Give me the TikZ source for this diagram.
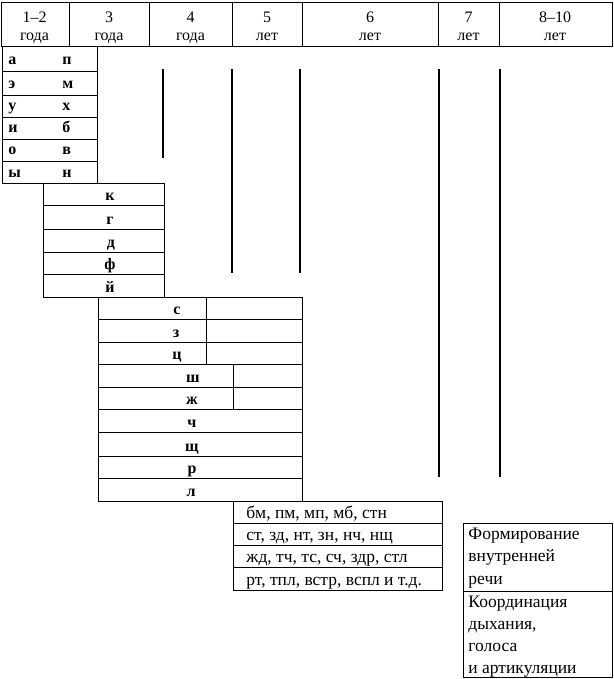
\documentclass[tikz,border=0pt]{standalone}
\usepackage{fontspec}
\setmainfont{Liberation Serif}
\begin{document}
\begin{tikzpicture}[x=1pt,y=-1pt,line width=0.9pt,
		every node/.style={font=\fontsize{16}{19}\selectfont,inner sep=0pt},
		bukva/.style={anchor=base,font=\fontsize{16}{19}\selectfont\bfseries},
		shapka/.style={anchor=base},
		slova/.style={anchor=base west,font=\fontsize{17.5}{20}\selectfont},
		liniya/.style={line width=1.5pt}]
	\useasboundingbox (0,0) rectangle (613,679);
	%			Шапка
	\draw (1,2) rectangle (612,46);
	\draw (69,2) -- (69,46) (149,2) -- (149,46) (232,2) -- (232,46) (302,2) -- (302,46) (438,2) -- (438,46) (499,2) -- (499,46);
	\node[shapka] (v12) at (34.5,23) {1--2};
	\node[shapka] (g12) at (34.5,41) {года};
	\node[shapka] (v3) at (109,23) {3};
	\node[shapka] (g3) at (109,41) {года};
	\node[shapka] (v4) at (190.5,23) {4};
	\node[shapka] (g4) at (190.5,41) {года};
	\node[shapka] (v5) at (267,23) {5};
	\node[shapka] (l5) at (267,41) {лет};
	\node[shapka] (v6) at (370,23) {6};
	\node[shapka] (l6) at (370,41) {лет};
	\node[shapka] (v7) at (468.5,23) {7};
	\node[shapka] (l7) at (468.5,41) {лет};
	\node[shapka] (v810) at (555,23) {8--10};
	\node[shapka] (l810) at (555,41) {лет};
	%			Первые звуки
	\draw (2,46) rectangle (97,183);
	\draw (2,71) -- (97,71) (2,95) -- (97,95) (2,117) -- (97,117) (2,139) -- (97,139) (2,161) -- (97,161);
	\node[bukva,anchor=base west] (a) at (8,65) {а};
	\node[bukva,anchor=base west] (p) at (62,65) {п};
	\node[bukva,anchor=base west] (e) at (8,89) {э};
	\node[bukva,anchor=base west] (m) at (62,89) {м};
	\node[bukva,anchor=base west] (u) at (8,111) {у};
	\node[bukva,anchor=base west] (h) at (62,111) {х};
	\node[bukva,anchor=base west] (i) at (8,133) {и};
	\node[bukva,anchor=base west] (b) at (62,133) {б};
	\node[bukva,anchor=base west] (o) at (8,155) {о};
	\node[bukva,anchor=base west] (v) at (62,155) {в};
	\node[bukva,anchor=base west] (y) at (8,177) {ы};
	\node[bukva,anchor=base west] (n) at (62,177) {н};
	%			Второй блок
	\draw (43,183) rectangle (164,297);
	\draw (43,205) -- (164,205) (43,229) -- (164,229) (43,252) -- (164,252) (43,274) -- (164,274);
	\node[bukva] (k) at (110,200) {к};
	\node[bukva] (g) at (110,224) {г};
	\node[bukva] (d) at (111,247) {д};
	\node[bukva] (f) at (110,269) {ф};
	\node[bukva] (j) at (110,292) {й};
	%			Третий блок
	\draw (98,297) rectangle (302,501);
	\draw (98,319) -- (302,319) (98,342) -- (302,342) (98,364) -- (302,364) (98,387) -- (302,387) (98,409) -- (302,409) (98,432) -- (302,432) (98,456) -- (302,456) (98,478) -- (302,478);
	\draw (206,297) -- (206,364) (233,364) -- (233,409);
	\node[bukva] (s) at (177,314) {с};
	\node[bukva] (z) at (176,337) {з};
	\node[bukva] (c) at (177,359) {ц};
	\node[bukva] (sh) at (193,382) {ш};
	\node[bukva] (zh) at (192,404) {ж};
	\node[bukva] (ch) at (192,427) {ч};
	\node[bukva] (shch) at (192,451) {щ};
	\node[bukva] (r) at (192,473) {р};
	\node[bukva] (l) at (191,496) {л};
	%			Сочетания
	\draw (233,501) rectangle (442,590);
	\draw (233,523) -- (442,523) (233,545) -- (442,545) (233,567) -- (442,567);
	\node[slova] (sl1) at (246,518) {бм, пм, мп, мб, стн};
	\node[slova] (sl2) at (246,540) {ст, зд, нт, зн, нч, нщ};
	\node[slova] (sl3) at (246,562) {жд, тч, тс, сч, здр, стл};
	\node[slova] (sl4) at (246,585) {рт, тпл, встр, вспл и т.д.};
	%			Линии
	\draw[liniya] (163,69) -- (163,158);
	\draw[liniya] (232,69) -- (232,273);
	\draw[liniya] (300,69) -- (300,273);
	\draw[liniya] (439,69) -- (439,477);
	\draw[liniya] (500,69) -- (500,477);
	%			Речь
	\draw (463,523) rectangle (612,677);
	\draw (463,591) -- (612,591);
	\node[slova] (rech1) at (468,539) {Формирование};
	\node[slova] (rech2) at (468,561) {внутренней};
	\node[slova] (rech3) at (468,584) {речи};
	\node[slova] (koord1) at (468,607) {Координация};
	\node[slova] (koord2) at (468,629) {дыхания,};
	\node[slova] (koord3) at (468,651) {голоса};
	\node[slova] (koord4) at (468,673) {и артикуляции};
\end{tikzpicture}
\end{document}
